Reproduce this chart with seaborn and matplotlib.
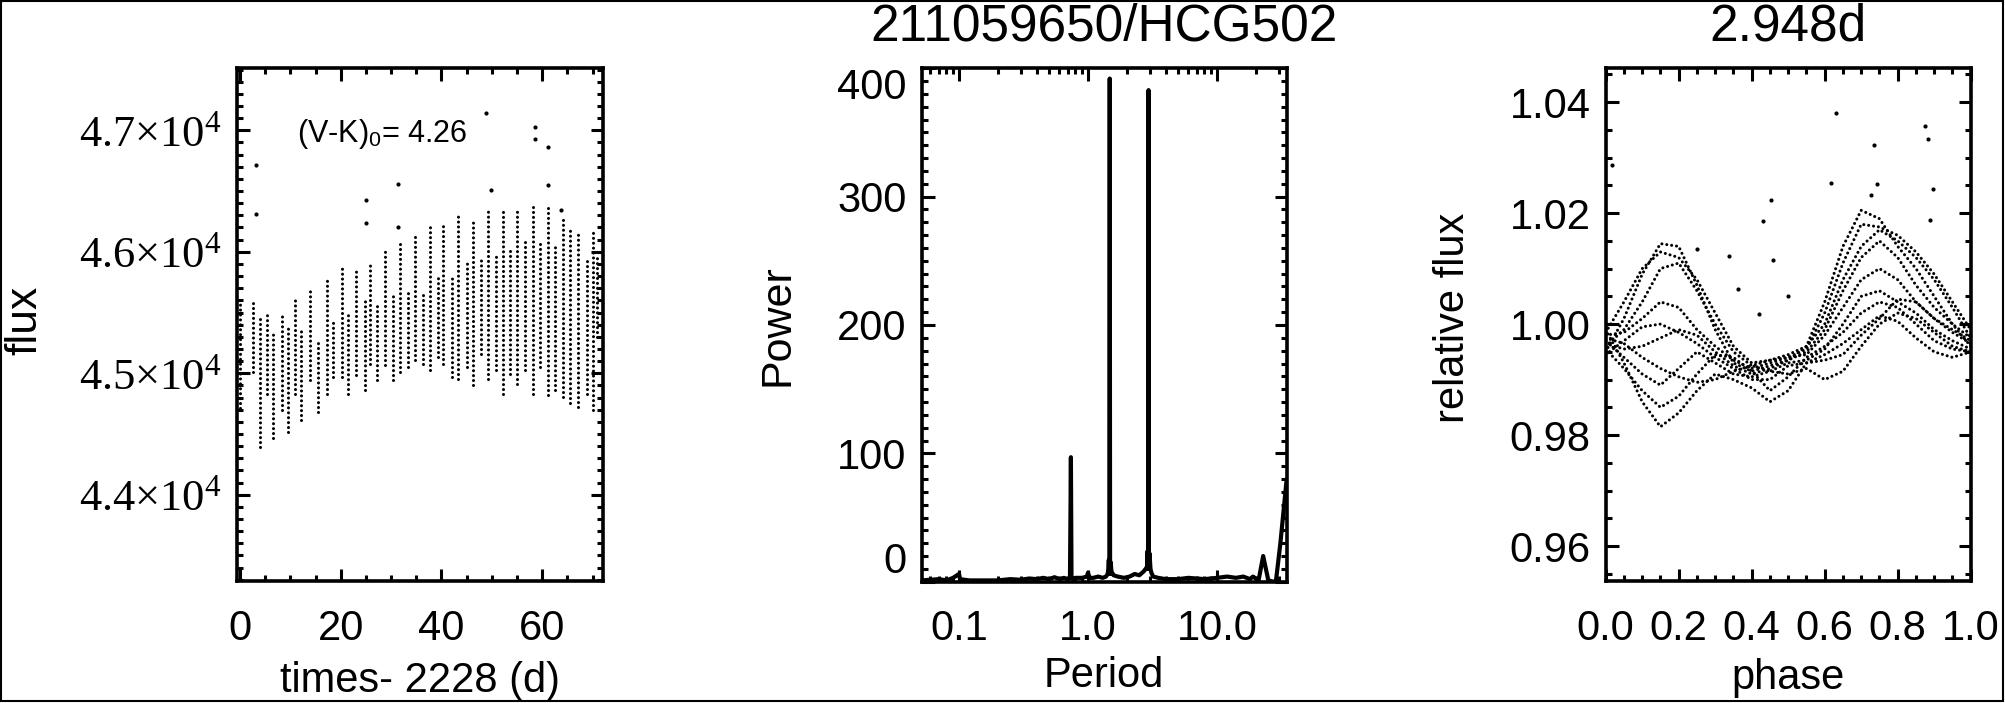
import pandas as pd
import matplotlib
matplotlib.use("Agg")
import matplotlib.pyplot as plt
import seaborn as sns
from matplotlib.ticker import MultipleLocator, FixedLocator, FixedFormatter, LogLocator, NullFormatter
from matplotlib.patches import Rectangle

# light curve, one dotted column per half period: time, lowest and highest flux
col_time = [0.0, 2.6, 3.9, 5.3, 6.6, 8.3, 9.6, 10.9, 12.2, 13.9, 15.5, 17.2, 18.5, 20.2, 21.5,
            23.1, 24.8, 25.8, 27.1, 28.8, 30.4, 31.7, 33.4, 34.7, 36.4, 37.7, 39.3, 40.3, 42.0,
            43.3, 45.0, 46.3, 47.9, 49.3, 50.9, 52.2, 53.6, 54.9, 56.5, 58.2, 59.5, 61.2, 62.5,
            64.2, 65.5, 67.1, 68.8, 70.1, 70.8]
col_low = [44710, 45011, 44394, 44833, 44463, 44696, 44518, 44833, 44614, 44943, 44683, 44833,
           44970, 44970, 44833, 44984, 44861, 45080, 44943, 45066, 44943, 45011, 45052, 45107,
           45080, 45025, 45135, 45080, 44970, 44956, 45052, 44902, 45162, 44956, 45025, 44833,
           44997, 44915, 45025, 44833, 45052, 44820, 44861, 44806, 44751, 44724, 44833, 44696,
           45300]
col_high = [45601, 45588, 45465, 45491, 45326, 45491, 45409, 45628, 45354, 45683, 45272, 45779,
            45436, 45875, 45491, 45861, 45601, 45916, 45574, 46012, 45656, 46080, 45683, 46135,
            45656, 46231, 45820, 46245, 45793, 46327, 45930, 46245, 45957, 46355, 45985, 46342,
            46012, 46368, 46080, 46382, 46067, 46395, 46039, 46300, 46176, 46176, 45930, 46176,
            45985]
# isolated points of the light curve
lc_out_time = [3.2, 3.2, 25.0, 25.0, 31.4, 31.4, 48.9, 49.9, 58.5, 58.5, 61.2, 61.2, 63.8]
lc_out_flux = [46712, 46309, 46424, 46240, 46561, 46204, 47142, 46506, 47027, 46926, 46863,
               46547, 46342]

# periodogram
period = [0.0514, 0.06, 0.07, 0.08, 0.09, 0.1, 0.102, 0.12, 0.15, 0.2, 0.25, 0.3, 0.35, 0.4,
          0.45, 0.5, 0.55, 0.6, 0.65, 0.7, 0.725, 0.737, 0.745, 0.76, 0.8, 0.9, 0.98, 1.0, 1.03,
          1.1, 1.2, 1.3, 1.38, 1.42, 1.44, 1.45, 1.458, 1.465, 1.474, 1.483, 1.49, 1.5, 1.52,
          1.58, 1.7, 1.9, 2.1, 2.3, 2.5, 2.7, 2.8, 2.88, 2.9, 2.91, 2.925, 2.948, 2.965, 2.98,
          3.0, 3.05, 3.1, 3.2, 3.5, 4.0, 5.0, 6.0, 8.0, 10.0, 12.0, 14.0, 16.0, 18.0, 19.0, 21.0,
          22.8, 25.0, 27.5, 28.6, 31.0, 34.7]
power = [1, 1.5, 2, 1, 3, 6, 2, 1, 1, 1, 2, 1.5, 2.5, 2, 3, 2, 3.5, 2, 3, 2, 3, 97, 3, 2, 3, 3, 4,
         7, 3, 3, 4, 3, 4, 6, 10, 17, 6, 20, 392, 18, 6, 15, 8, 5, 4, 3, 4, 6, 5, 8, 10, 12, 24,
         10, 26, 383, 25, 10, 22, 10, 7, 4, 3, 2, 2, 3, 2, 3, 4, 3, 4, 2, 4, 1, 20, 1, 0, 0, 30,
         80]

# phased light curve, strands sampled on a common phase grid
strand_phase = [0.0, 0.05, 0.10, 0.15, 0.20, 0.25, 0.30, 0.35, 0.40, 0.45, 0.50,
                0.55, 0.60, 0.65, 0.70, 0.75, 0.80, 0.85, 0.90, 0.95, 1.0]
strand_a = [0.9950, 1.0010, 1.0090, 1.0145, 1.0140, 1.0070, 0.9990, 0.9930, 0.9915, 0.9925,
            0.9935, 0.9960, 1.0040, 1.0140, 1.0205, 1.0190, 1.0140, 1.0100, 1.0050, 1.0000, 0.9960]
strand_b = [0.9960, 0.9990, 1.0040, 1.0100, 1.0110, 1.0060, 1.0000, 0.9950, 0.9925, 0.9935,
            0.9945, 0.9960, 1.0000, 1.0080, 1.0140, 1.0170, 1.0150, 1.0120, 1.0080, 1.0030, 0.9975]
strand_c = [0.9980, 0.9985, 1.0010, 1.0040, 1.0030, 0.9990, 0.9960, 0.9935, 0.9920, 0.9930,
            0.9940, 0.9945, 0.9980, 1.0030, 1.0080, 1.0100, 1.0080, 1.0040, 1.0010, 0.9990, 0.9970]
strand_d = [0.9990, 0.9930, 0.9860, 0.9815, 0.9840, 0.9880, 0.9910, 0.9900, 0.9885, 0.9860,
            0.9880, 0.9930, 0.9945, 0.9965, 0.9990, 1.0015, 1.0005, 0.9975, 0.9950, 0.9940, 0.9950]
strand_e = [0.9970, 0.9940, 0.9910, 0.9890, 0.9920, 0.9950, 0.9930, 0.9910, 0.9905, 0.9915,
            0.9930, 0.9935, 0.9955, 1.0000, 1.0050, 1.0060, 1.0040, 1.0020, 0.9990, 0.9970, 0.9955]
strand_f = [0.9945, 0.9970, 0.9995, 1.0000, 0.9985, 0.9965, 0.9940, 0.9920, 0.9900, 0.9900,
            0.9925, 0.9930, 0.9935, 0.9945, 0.9980, 1.0010, 1.0045, 1.0040, 1.0010, 0.9985, 0.9965]
strand_g = [0.9965, 0.9955, 0.9960, 0.9975, 0.9990, 0.9980, 0.9950, 0.9925, 0.9910, 0.9920,
            0.9935, 0.9950, 0.9990, 1.0060, 1.0120, 1.0150, 1.0120, 1.0070, 1.0030, 1.0000, 0.9975]
strand_h = [0.9955, 0.9920, 0.9880, 0.9850, 0.9870, 0.9910, 0.9945, 0.9940, 0.9915, 0.9880,
            0.9905, 0.9940, 0.9960, 0.9985, 1.0020, 1.0040, 1.0030, 1.0000, 0.9970, 0.9955, 0.9950]
strand_i = [0.9985, 1.0040, 1.0100, 1.0130, 1.0120, 1.0080, 1.0020, 0.9960, 0.9930, 0.9935,
            0.9940, 0.9955, 1.0020, 1.0110, 1.0180, 1.0175, 1.0160, 1.0130, 1.0090, 1.0040, 0.9990]
strand_j = [0.9975, 0.9965, 0.9940, 0.9920, 0.9905, 0.9895, 0.9900, 0.9915, 0.9925, 0.9915,
            0.9910, 0.9920, 0.9900, 0.9915, 0.9960, 1.0000, 1.0020, 1.0010, 0.9985, 0.9960, 0.9950]
# isolated points of the phased curve
ph_out_phase = [0.016, 0.432, 0.453, 0.458, 0.632, 0.616, 0.735, 0.742, 0.728, 0.876, 0.884,
                0.898, 0.889, 0.337, 0.363, 0.50, 0.421, 0.25]
ph_out_flux = [1.0287, 1.0185, 1.0224, 1.0116, 1.0381, 1.0255, 1.0322, 1.0252, 1.0233, 1.0357,
               1.0334, 1.0243, 1.0187, 1.0122, 1.0063, 1.0051, 1.0019, 1.0136]

sns.set_style("ticks")
plt.rcParams["font.family"] = ["Liberation Sans", "DejaVu Sans"]
plt.rcParams["mathtext.fontset"] = "custom"
plt.rcParams["mathtext.rm"] = "Liberation Serif"
plt.rcParams["mathtext.it"] = "Liberation Serif:italic"
plt.rcParams["mathtext.sf"] = "Liberation Sans"
for key in ["text.color", "axes.labelcolor", "xtick.color", "ytick.color", "axes.edgecolor"]:
    plt.rcParams[key] = "black"

W, H = 2005, 703
fig = plt.figure(figsize=(W / 100, H / 100), dpi=100)


def box(left, top, right, bottom):
    return fig.add_axes([left / W, (H - bottom) / H, (right - left) / W, (bottom - top) / H])


def style(ax, size=30):
    ax.tick_params(which="both", direction="in", top=True, right=True, width=2.2, color="k",
                   labelcolor="k")
    ax.tick_params(which="major", length=9, labelsize=size)
    ax.tick_params(which="minor", length=4.5)
    ax.tick_params(axis="x", which="major", pad=20)
    ax.tick_params(axis="y", which="major", pad=11)
    for s in ax.spines.values():
        s.set_linewidth(2.6)
        s.set_color("k")
    ax.set_xlabel("")
    ax.set_ylabel("")


dot = dict(color="k", lw=2.2, linestyle=(0, (0.01, 1.6)), dash_capstyle="round")

# left panel: light curve
ax1 = box(236.7, 68.3, 602.7, 581)
cols = pd.DataFrame({"col": list(range(len(col_time))) * 2,
                     "t": col_time * 2,
                     "flux": col_low + col_high})
sns.lineplot(data=cols, x="t", y="flux", units="col", estimator=None, sort=False, ax=ax1, **dot)
sns.scatterplot(x=lc_out_time, y=lc_out_flux, ax=ax1, color="k", s=9, linewidth=0)
ax1.set_xlim(-0.65, 72)
ax1.set_ylim(43290, 47510)
ax1.xaxis.set_major_locator(MultipleLocator(20))
ax1.xaxis.set_minor_locator(MultipleLocator(5))
ax1.yaxis.set_major_locator(FixedLocator([44000, 45000, 46000, 47000]))
ax1.yaxis.set_major_formatter(FixedFormatter([r"$\mathrm{4.%d{\times}10^{4}}$" % k for k in (4, 5, 6, 7)]))
ax1.yaxis.set_minor_locator(MultipleLocator(100))
style(ax1)
ax1.tick_params(axis="y", labelsize=32)
ax1.text(297 / W, 1 - 142 / H, r"(V-K)$_{\mathsf{0}}$= 4.26", transform=fig.transFigure,
         fontsize=22, va="baseline", ha="left")

# middle panel: periodogram
ax2 = box(921.7, 68.3, 1286.7, 581.7)
sns.lineplot(x=period, y=power, ax=ax2, color="k", lw=3.0, sort=False)
ax2.set_xscale("log")
ax2.set_xlim(0.0514, 34.7)
ax2.set_ylim(0, 400)
ax2.xaxis.set_major_locator(FixedLocator([0.1, 1.0, 10.0]))
ax2.xaxis.set_major_formatter(FixedFormatter(["0.1", "1.0", "10.0"]))
ax2.xaxis.set_minor_locator(LogLocator(base=10, subs=range(2, 10)))
ax2.xaxis.set_minor_formatter(NullFormatter())
ax2.yaxis.set_major_locator(MultipleLocator(100))
ax2.yaxis.set_minor_locator(MultipleLocator(10))
style(ax2)
fig.canvas.draw()
for lab in ax2.get_yticklabels():
    if lab.get_text() == "400":
        lab.set_va("top")
    elif lab.get_text() == "0":
        lab.set_va("bottom")

# right panel: phased light curve
ax3 = box(1605.7, 68.3, 1970.7, 581)
all_strands = [strand_a, strand_b, strand_c, strand_d, strand_e, strand_f, strand_g, strand_h,
               strand_i, strand_j]
strands = pd.DataFrame({
    "strand": sum([[k] * len(strand_phase) for k in range(len(all_strands))], []),
    "phase": strand_phase * len(all_strands),
    "flux": sum(all_strands, []),
})
sns.lineplot(data=strands, x="phase", y="flux", units="strand", estimator=None, sort=False,
             ax=ax3, **dot)
sns.scatterplot(x=ph_out_phase, y=ph_out_flux, ax=ax3, color="k", s=9, linewidth=0)
ax3.set_xlim(0, 1)
ax3.set_ylim(0.9537, 1.0461)
ax3.xaxis.set_major_locator(FixedLocator([0, 0.2, 0.4, 0.6, 0.8, 1.0]))
ax3.xaxis.set_major_formatter(FixedFormatter(["0.0", "0.2", "0.4", "0.6", "0.8", "1.0"]))
ax3.xaxis.set_minor_locator(MultipleLocator(0.05))
ax3.yaxis.set_major_locator(FixedLocator([0.96, 0.98, 1.00, 1.02, 1.04]))
ax3.yaxis.set_major_formatter(FixedFormatter(["0.96", "0.98", "1.00", "1.02", "1.04"]))
ax3.yaxis.set_minor_locator(MultipleLocator(0.005))
style(ax3)

# titles and axis labels
fig.text(1104 / W, 1 - 27 / H, "211059650/HCG502", fontsize=37, ha="center", va="center")
fig.text(1788 / W, 1 - 27 / H, "2.948d", fontsize=37, ha="center", va="center")
fig.text(420 / W, 1 - 692 / H, "times- 2228 (d)", fontsize=30, ha="center", va="baseline")
fig.text(1104 / W, 1 - 687 / H, "Period", fontsize=30, ha="center", va="baseline")
fig.text(1788 / W, 1 - 689 / H, "phase", fontsize=30, ha="center", va="baseline")
fig.text(25 / W, 1 - 320 / H, "flux", fontsize=32, ha="center", va="center", rotation=90)
fig.text(777 / W, 1 - 325 / H, "Power", fontsize=31, ha="center", va="center", rotation=90)
fig.text(1453 / W, 1 - 318 / H, "relative flux", fontsize=30, ha="center", va="center", rotation=90)

# outer frame of the page
fig.add_artist(Rectangle((1 / W, 2 / H), 2002 / W, 700 / H, transform=fig.transFigure,
                         fill=False, lw=1.5, color="k"))

fig.savefig("out.png", dpi=100)
